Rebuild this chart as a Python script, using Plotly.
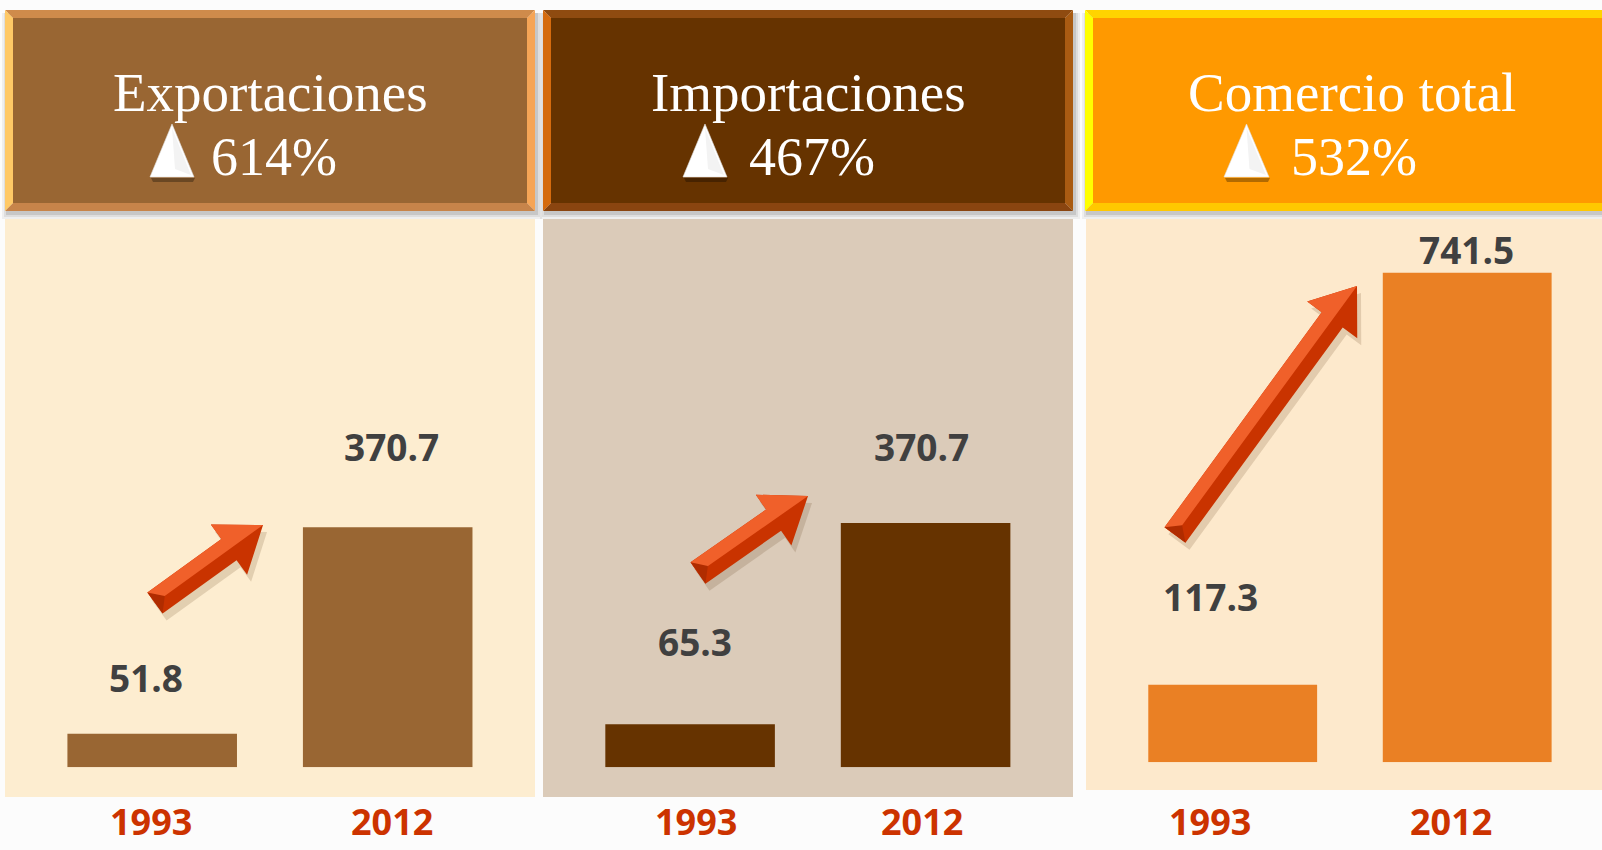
import plotly.graph_objects as go
import numpy as np

# ---------------- data ----------------
years = ["1993", "2012"]
exportaciones = [51.8, 370.7]
importaciones = [65.3, 370.7]
comercio_total = [117.3, 741.5]
panel_titles = ["Exportaciones", "Importaciones", "Comercio total"]
growth_labels = ["614%", "467%", "532%"]

# ---------------- geometry helpers (pixels -> paper) ----------------
W, H = 1602, 850


def px(x):
    return x / W


def py(y):
    return 1 - y / H


def poly(points):
    return "M " + " L ".join(f"{px(x):.5f},{py(y):.5f}" for x, y in points) + " Z"


panels = [
    dict(values=exportaciones, xdom=(34.45, 505.45), base=767.3, top=219, ymax=846.5,
         bar_color="#996633", body=(5, 219, 535, 797), body_color="#FDEDD0",
         head=(5, 10, 535, 211), head_fill="#996633",
         bevel=dict(top="#CF8B4B", left="#FFC966", right="#F6A556", bottom="#C7844A"),
         title_x=270, tri_x=(150, 194), pct_x=209,
         val_shift=[(-6, 56), (4, 81)], year_shift=[-1, 4],
         arrow=((155, 603), (263, 525))),
    dict(values=importaciones, xdom=(572.35, 1043.35), base=767.3, top=219, ymax=832.3,
         bar_color="#663300", body=(543, 219, 1073, 797), body_color="#DBCBB9",
         head=(543, 10, 1073, 211), head_fill="#663300",
         bevel=dict(top="#8F4B10", left="#D56B0E", right="#A95B12", bottom="#8A4510"),
         title_x=808, tri_x=(683, 727), pct_x=747,
         val_shift=[(5, 83), (-4, 77)], year_shift=[6, -4],
         arrow=((698, 573), (808, 496))),
    dict(values=comercio_total, xdom=(1115.45, 1584.45), base=762.2, top=219, ymax=823.0,
         bar_color="#EA8024", body=(1086, 219, 1602, 790), body_color="#FDE9CC",
         head=(1085, 10, 1612, 211), head_fill="#FF9900",
         bevel=dict(top="#FFD400", left="#FFFF00", right="#FFC800", bottom="#FFC800"),
         title_x=1352, tri_x=(1224, 1269), pct_x=1289,
         val_shift=[(-22, 88), (-1, 23)], year_shift=[-23, -16],
         arrow=((1175, 535), (1357, 286))),
]

fig = go.Figure()
shapes = []
annotations = []
layout_axes = {}

for i, p in enumerate(panels):
    n = "" if i == 0 else str(i + 1)
    xa, ya = "x" + n, "y" + n

    # body background
    bx0, by0, bx1, by1 = p["body"]
    shapes.append(dict(type="rect", xref="paper", yref="paper", layer="below",
                       x0=px(bx0), x1=px(bx1), y0=py(by1), y1=py(by0),
                       fillcolor=p["body_color"], line=dict(width=0)))

    # header shadow
    hx0, hy0, hx1, hy1 = p["head"]
    for grow, alpha in [(5, 0.05), (3, 0.07), (1, 0.10)]:
        shapes.append(dict(type="rect", xref="paper", yref="paper", layer="below",
                           x0=px(hx0 + 2 - grow), x1=px(hx1 + 2 + grow),
                           y0=py(hy1 + 3 + grow), y1=py(hy0 + 3),
                           fillcolor=f"rgba(0,0,0,{alpha})", line=dict(width=0)))
    # header bevel
    b = 8
    bev = p["bevel"]
    shapes.append(dict(type="path", xref="paper", yref="paper", layer="below",
                       path=poly([(hx0, hy0), (hx1, hy0), (hx1 - b, hy0 + b), (hx0 + b, hy0 + b)]),
                       fillcolor=bev["top"], line=dict(width=0)))
    shapes.append(dict(type="path", xref="paper", yref="paper", layer="below",
                       path=poly([(hx0, hy1), (hx1, hy1), (hx1 - b, hy1 - b), (hx0 + b, hy1 - b)]),
                       fillcolor=bev["bottom"], line=dict(width=0)))
    shapes.append(dict(type="path", xref="paper", yref="paper", layer="below",
                       path=poly([(hx0, hy0), (hx0 + b, hy0 + b), (hx0 + b, hy1 - b), (hx0, hy1)]),
                       fillcolor=bev["left"], line=dict(width=0)))
    shapes.append(dict(type="path", xref="paper", yref="paper", layer="below",
                       path=poly([(hx1, hy0), (hx1 - b, hy0 + b), (hx1 - b, hy1 - b), (hx1, hy1)]),
                       fillcolor=bev["right"], line=dict(width=0)))
    shapes.append(dict(type="rect", xref="paper", yref="paper", layer="below",
                       x0=px(hx0 + b), x1=px(hx1 - b), y0=py(hy1 - b), y1=py(hy0 + b),
                       fillcolor=p["head_fill"], line=dict(width=0)))

    # header title
    annotations.append(dict(xref="paper", yref="paper", x=px(p["title_x"]), y=py(92),
                            xanchor="center", yanchor="middle", showarrow=False,
                            text=panel_titles[i],
                            font=dict(family="Liberation Serif", size=55, color="white")))
    annotations.append(dict(xref="paper", yref="paper", x=px(p["pct_x"]), y=py(157),
                            xanchor="left", yanchor="middle", showarrow=False,
                            text=growth_labels[i],
                            font=dict(family="Liberation Serif", size=54, color="white")))
    # white triangle with shadow
    tx0, tx1 = p["tri_x"]
    ty0, ty1 = 124, 177
    shapes.append(dict(type="path", xref="paper", yref="paper",
                       path=poly([(tx0 + 1, ty1 + 1), (tx1 + 1, ty1 + 1), (tx1 - 1, ty1 + 5), (tx0 + 3, ty1 + 5)]),
                       fillcolor="rgba(0,0,0,0.30)", line=dict(width=0)))
    shapes.append(dict(type="path", xref="paper", yref="paper",
                       path=poly([(tx0, ty1), ((tx0 + tx1) / 2, ty0), (tx1, ty1)]),
                       fillcolor="#FFFFFF", line=dict(width=0.6, color="#E0E0E0")))
    shapes.append(dict(type="path", xref="paper", yref="paper",
                       path=poly([((tx0 + tx1) / 2, ty0 + 4), (tx1 - 3, ty1 - 2), ((tx0 + tx1) / 2 + 3, ty1 - 8)]),
                       fillcolor="#F3F3F3", line=dict(width=0)))

    # bars
    fig.add_trace(go.Bar(x=years, y=p["values"], xaxis=xa, yaxis=ya,
                         marker=dict(color=p["bar_color"], line=dict(width=0)),
                         showlegend=False, hoverinfo="x+y"))

    layout_axes["xaxis" + n] = dict(domain=[px(p["xdom"][0]), px(p["xdom"][1])], type="category",
                                     categoryorder="array", categoryarray=years,
                                     range=[-0.5, 1.5], visible=False, anchor=ya, fixedrange=True)
    layout_axes["yaxis" + n] = dict(domain=[py(p["base"]), py(p["top"])], range=[0, p["ymax"]],
                                     visible=False, anchor=xa, fixedrange=True)

    # value labels and year labels (x given as category index)
    for j, (yr, v) in enumerate(zip(years, p["values"])):
        dx, dy = p["val_shift"][j]
        annotations.append(dict(xref=xa, yref=ya, x=j, y=v, xshift=dx, yshift=dy,
                                xanchor="center", yanchor="middle", showarrow=False,
                                text=f"{v:.1f}",
                                font=dict(family="Open Sans", size=37, color="#404040", weight="bold")))
        annotations.append(dict(xref=xa, yref="paper", x=j, y=py(848), xshift=p["year_shift"][j],
                                xanchor="center", yanchor="bottom", showarrow=False,
                                text=yr,
                                font=dict(family="Open Sans", size=36, color="#CC3300", weight="bold")))

    # decorative 3D-looking arrow
    (tx, tyy), (hx, hy) = p["arrow"]
    T = np.array([tx, tyy], float)
    Hh = np.array([hx, hy], float)
    u = (Hh - T) / np.linalg.norm(Hh - T)
    nrm = np.array([-u[1], u[0]])
    w, hw, hl = 13, 31, 42
    B = Hh - u * hl
    full = [T + nrm * w, B + nrm * w, B + nrm * hw, Hh, B - nrm * hw, B - nrm * w, T - nrm * w]
    upper = [T, T - nrm * w, B - nrm * w, B - nrm * hw, Hh]
    sh = np.array([4, 7])
    shapes.append(dict(type="path", xref="paper", yref="paper",
                       path=poly([tuple(q + sh) for q in full]),
                       fillcolor="rgba(90,50,10,0.16)", line=dict(width=0)))
    shapes.append(dict(type="path", xref="paper", yref="paper",
                       path=poly([tuple(q) for q in full]),
                       fillcolor="#C93300", line=dict(width=0)))
    shapes.append(dict(type="path", xref="paper", yref="paper",
                       path=poly([tuple(q) for q in upper]),
                       fillcolor="#F0602A", line=dict(width=0)))
    shapes.append(dict(type="path", xref="paper", yref="paper",
                       path=poly([tuple(T - nrm * w), tuple(T + nrm * w), tuple(T + u * 12)]),
                       fillcolor="#B02C00", line=dict(width=0)))

fig.update_layout(
    width=W, height=H,
    margin=dict(l=0, r=0, t=0, b=0),
    paper_bgcolor="#FCFCFC",
    plot_bgcolor="rgba(0,0,0,0)",
    bargap=0.28,
    shapes=shapes,
    annotations=annotations,
    showlegend=False,
    **layout_axes,
)

fig.write_html("out.html", config={"displayModeBar": False},
               post_script="document.body.style.margin='0';document.body.style.overflow='hidden';")
